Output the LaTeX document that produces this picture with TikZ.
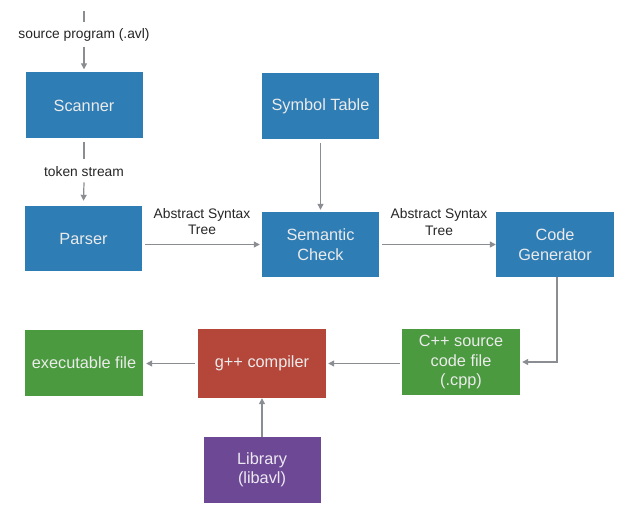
\documentclass[tikz,border=0pt]{standalone}
\usepackage{fontspec}
\setmainfont{Liberation Sans}
\usetikzlibrary{arrows.meta}
\definecolor{boxblue}{HTML}{2F7DB5}
\definecolor{boxgreen}{HTML}{4B9A3F}
\definecolor{boxred}{HTML}{B5463A}
\definecolor{boxpurple}{HTML}{6D4895}
\definecolor{linegray}{HTML}{8A8E93}
\begin{document}
\begin{tikzpicture}[x=1pt,y=1pt,
  stagebox/.style={draw=none, text=white!92!black, font=\fontsize{16.3}{19.5}\selectfont,
    align=center, inner sep=0pt, minimum width=117pt, minimum height=66pt},
  lbl/.style={font=\fontsize{13.8}{16.5}\selectfont, text=black!85, align=center, inner sep=0pt},
  conn/.style={draw=linegray, line width=1.2pt, -{Triangle[width=6pt,length=6pt]}},
  plain/.style={draw=linegray, line width=1.2pt}]
\useasboundingbox (0,0) rectangle (624,-516);
\fill[white] (0,0) rectangle (624,-516);
% boxes
\node[stagebox, fill=boxblue] (scanner) at (84,-105.5) {Scanner};
\node[stagebox, fill=boxblue] (symtab) at (320.5,-106) {Symbol Table};
\node[stagebox, fill=boxblue, minimum height=65pt] (parser) at (83.5,-238.5) {Parser};
\node[stagebox, fill=boxblue, minimum height=65pt] (sem) at (320.5,-244.5) {Semantic\\Check};
\node[stagebox, fill=boxblue, minimum width=118pt, minimum height=65pt] (codegen) at (555,-244.5) {Code\\Generator};
\node[stagebox, fill=boxgreen, minimum width=118pt] (exec) at (84,-363) {executable file};
\node[stagebox, fill=boxred, minimum width=128pt, minimum height=69pt] (gpp) at (262,-363.5) {g++ compiler};
\node[stagebox, fill=boxgreen, minimum width=118pt] (cpp) at (461,-362) {C++ source\\code file\\(.cpp)};
\node[stagebox, fill=boxpurple, text=white!88!boxpurple] (lib) at (262,-470) {Library\\(libavl)};
% labels
\coordinate (src) at (84,-11);
\node[lbl] (srclbl) at (84,-35) {source program (.avl)};
\node[lbl] (toklbl) at (84,-172) {token stream};
\node[lbl] (ast1) at (202,-221.5) {Abstract Syntax\\Tree};
\node[lbl] (ast2) at (439,-222) {Abstract Syntax\\Tree};
% connectors
\draw[plain] (src) -- ([yshift=6pt]srclbl.north);
\draw[conn] ([yshift=-5pt]srclbl.south) -- ([yshift=3pt]scanner.north);
\draw[plain] ([yshift=-3.5pt]scanner.south) -- ([yshift=8pt]toklbl.north);
\draw[conn] ([yshift=-5pt]toklbl.south) -- ([yshift=5pt]parser.north);
\draw[conn] ([xshift=3pt]parser.east |- sem.west) -- ([xshift=-2pt]sem.west);
\draw[conn] ([yshift=-4pt]symtab.south) -- ([yshift=2pt]sem.north);
\draw[conn] ([xshift=3pt]sem.east) -- (codegen.west);
\draw[conn] ([xshift=2pt]codegen.south) -- ([xshift=2pt]codegen.south |- cpp.east) -- ([xshift=2pt]cpp.east);
\draw[conn] ([xshift=-2pt]cpp.west |- gpp.east) -- ([xshift=2pt]gpp.east);
\draw[conn] ([xshift=-3pt]gpp.west) -- ([xshift=3pt]exec.east |- gpp.west);
\draw[conn] (lib.north) -- (gpp.south);
\end{tikzpicture}
\end{document}
